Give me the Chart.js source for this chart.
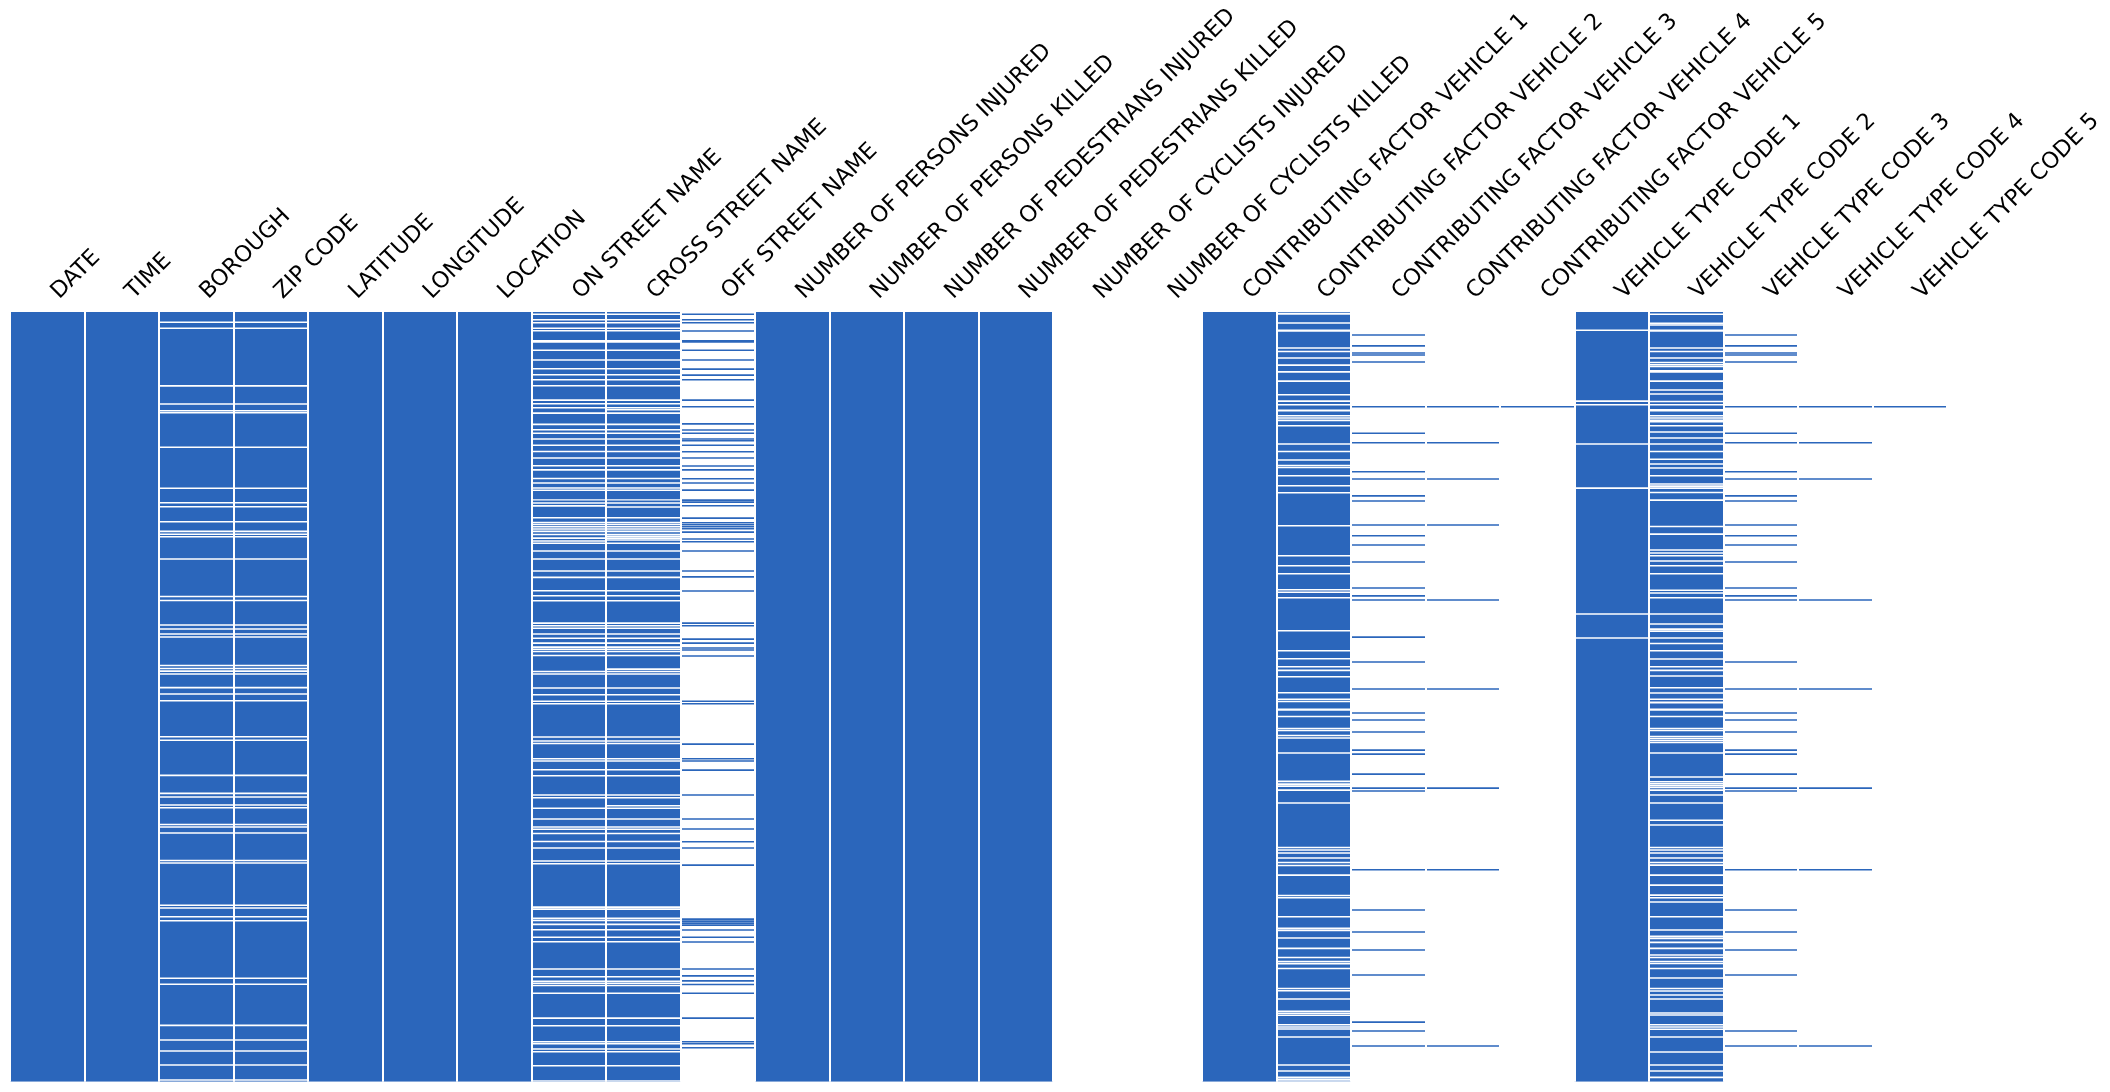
<!DOCTYPE html>
<html>
<head>
<meta charset="utf-8">
<script src="https://cdn.jsdelivr.net/npm/chart.js@4.4.1/dist/chart.umd.min.js"></script>
<style>
  html, body { margin: 0; padding: 0; background: #ffffff; }
  #wrap { width: 2110px; height: 1092px; position: relative; }
</style>
</head>
<body>
<div id="wrap"><canvas id="c"></canvas></div>
<script>
// ---- DATA ----
const columns = [
  "DATE", "TIME", "BOROUGH", "ZIP CODE", "LATITUDE", "LONGITUDE", "LOCATION",
  "ON STREET NAME", "CROSS STREET NAME", "OFF STREET NAME",
  "NUMBER OF PERSONS INJURED", "NUMBER OF PERSONS KILLED",
  "NUMBER OF PEDESTRIANS INJURED", "NUMBER OF PEDESTRIANS KILLED",
  "NUMBER OF CYCLISTS INJURED", "NUMBER OF CYCLISTS KILLED",
  "CONTRIBUTING FACTOR VEHICLE 1", "CONTRIBUTING FACTOR VEHICLE 2",
  "CONTRIBUTING FACTOR VEHICLE 3", "CONTRIBUTING FACTOR VEHICLE 4",
  "CONTRIBUTING FACTOR VEHICLE 5",
  "VEHICLE TYPE CODE 1", "VEHICLE TYPE CODE 2", "VEHICLE TYPE CODE 3",
  "VEHICLE TYPE CODE 4", "VEHICLE TYPE CODE 5"
];

const nRows = 500;

const emptyColumns = ["NUMBER OF CYCLISTS INJURED", "NUMBER OF CYCLISTS KILLED"];

// rows (0 = top) where a mostly-complete column is missing; [a, b] = run of rows
const boroughMissing = [6.2, 10.1, 47.5, 59.3, 63.6, 65.0, 87.3, 114, 123.4, 126, 135.8, 142, 143.9, 145.5,
  159.9, 184.3, 186.9, 202.8, 205.4, 208.7, 210.6, 229.2, 231.1, 232.8, 234.7, 243.5, 247.7, 252,
  275.4, 277.7, 300.5, 312.2, 314.5, 319.8, 321.5, 332.4, 334, 337.9, 355.8, 357.4, 384.9, 386.6,
  392.3, 394.9, 432.3, 436.2, 462.9, 472.4, 479.5, 488.6, 498.4];
const zipMissing = boroughMissing.slice();

const onStreetMissing = [0.9, 4.5, 6.5, 10, 11.7, [18.2, 19.9], 24.3, 30.7, 36.4, 40.3, 43.5, 47.4, [56.7, 57.8],
  59.1, 61.7, 65.2, [72.4, 73.5], 76, 78.2, 82, 86, 90.1, 94.4, 99.4, [102, 103.2], 107.6, 110.6, 113.8, 115.3,
  [121.6, 122.4], 123.6, [125.3, 126.5], 133.2, 136.2, 137.6, 139, 140.4, 142, 144, 146.4, 148.3, 149.7,
  154.8, 160, 167.8, 171.9, 180.6, 183.8, 187.1, 201.6, 203.3, 205, 208.7, 211.5, 214.6, 217.2, 218.6,
  220, 222.6, 233, 234.7, 243.8, 248.1, 252.3, 254, 275.6, 278.2, 279.8, 289.7, 291.2, 296.9, 300.8,
  313.3, 315, 321.8, 328.9, 334, 335.5, 338.2, 343.4, 347.7, 356.2, 357.9, 386.1, 387.4, 393.4, 394.8,
  397.3, 400.8, 405.6, 408.6, 426.3, 431.3, 434.2, 435.6, 437, 442, 458.2, 463.2, 473.5, 474.8, 478.3,
  480, 489.1, 499];

const crossStreetMissing = [0.9, 4.5, 6.5, 10, 11.7, [18.2, 19.9], 24.3, 30.7, 36.4, 40.3, 43.5, 47.4, [56.7, 57.8],
  59.1, 61.7, 63.0, 65.2, [72.4, 73.5], 76, 78.2, 82, 86, 90.1, 94.4, 99.4, [102, 103.2], 107.6, 110.6, 113.8, 115.3,
  [121.6, 122.4], 123.6, [126.2, 127.1], 133.2, 136.2, 137.6, 139, 140.4, 142, 144, 145.2, 146.4, 147.6, 149.7,
  154.8, 160, 167.8, 171.9, 180.6, 183.8, 187.1, 201.6, 203.3, 205, 208.7, 211.5, 214.6, 217.2, 218.6,
  220, 222.6, 231.5, 233, 234.7, 243.8, 248.1, 252.3, 254, 275.6, 278.2, 279.8, 289.7, 291.2, 296.9, 300.8,
  313.3, 315, 320.2, 321.8, 328.9, 334, 335.5, 338.2, 343.4, 347.7, 356.2, 357.9, 386.1, 387.4, 393.4, 394.8,
  397.3, 400.8, 405.6, 408.6, 426.3, 431.3, 434.2, 435.6, 437, 442, 458.2, 463.2, 473.5, 474.8, 478.3,
  480, 489.1, 499];

const cf2Missing = [[0.5, 1.8], 6.7, [11.3, 12.8], 22.9, 25.1, 29.4, 34, [38.3, 39.4], 44.4, 53.3, 57.4, 59.7,
  [63.4, 64.7], 66.9, 68.4, 69.9, 73.4, 85.3, 90.1, 95.7, 99.2, 100.5, 105.9, 112.4, 116.9, 138.4, 157.8,
  164.3, 169.5, 179.9, 181.6, 185.1, 206.6, 219.5, 224.7, 229.9, 232.3, 236.4, 246.8, 251, 252.5,
  [257.5, 259], 262.2, 270, 271.3, 274.6, 276.2, 286, 304.4, 306.2, 307.5, 310.1, 318.5, 347.3, 349, 351,
  354.2, 357.1, 359, 365.3, 378.5, 380, 392.3, 399.9, 401.2, 406.2, 412.9, 418.8, 421.4, 422.8, 425.9,
  438.9, 440.4, 445.8, 453.8, 455.1, 456.4, 462.5, 464.0, 465.3, 470.5, 488.7, 492.6, 496.7, 497.9, 499.1];

const vtc1Missing = [11.3, 57.4, 59.7, 85.3, 113.9, 195.7, 211.3];

const vtc2Missing = [0.9, 6.9, 8, [11.3, 12.8], 22.9, 25.1, 29.4, 32.3, 33.8, 34.9, [37.7, 39.4], 44.4, 50.2,
  52.8, 57.6, 59.7, [63, 64.7], 66.9, 68.4, [69.9, 71.7], 73.4, 77.5, 81.4, 85.3, 90.1, 95.1, 98.3, 100.9,
  105.9, 111.3, 112.6, 113.9, 116.7, 121.7, 138.8, 143.8, 154.1, 156.1, 157.8, 161.3, 164.3, 169.5, 180.3,
  182.1, 185.1, 195.7, 202.2, 205.5, 206.8, 211.3, 214.8, 219.5, 224.9, 229.9, 232.3, 236, 243.6, 247,
  251, [253.1, 254.4], [257.5, 259], 262.2, 270, 271.3, 275.2, 276.5, 277.8, 279.1, 286, 301.6, 304.6,
  305.9, 307.1, 308.3, 310.1, 313.3, 318.5, 329.6, 332.8, 347.3, 349, 351, 354.2, 357.1, 358.8, 365.3,
  371.8, 378.3, 380, 382.8, 392.3, 401, 405.1, 406.4, 409, 412.9, 417.2, 418.8, 421.4, 422.7, 425.9,
  432.2, 438.9, 440.6, 443.2, 445.8, 454.9, 456.2, 462.5, 464.0, 465.4, 470.5, 480.2, 488.7, 492.6, 496.7];

// rows where a mostly-empty column has a value
const offStreetPresent = [0.9, 4.5, 6.5, 11.9, [18.2, 19.9], 24.3, 30.7, 36.6, 40.5, 43.5, [56.7, 57.8],
  [61, 62.1], [72.1, 73.2], 76.2, 78.2, 82, 83.1, 86, 90.3, 94.4, 99.6, [102, 103.1], 107.8, 110.6, 115.2,
  121.7, 123, 125.4, 133.4, 136.4, 137.7, 139, 140.3, 142.5, 147, [148.7, 149.8], 154.8, 167.8,
  [171.5, 172.6], 180.8, 201.6, 203.3, 212, 214.6, 217.8, 219.1, 223, 252.3, 254, 280.2, 289.7, 291.2,
  297.1, 313.3, 328.9, 335.4, 343.6, 347.7, 358.8, 393.9, 395.2, 396.5, 397.8, 401, 405.6, 408.8, 426.3,
  [430.7, 431.8], [434, 435], 436.3, 442, 458.2, 473.5, 474.8, [477.4, 478.5]];

const cf3Present = [14.5, [21.4, 22.5], 26.2, 27.5, 32, 61.1, 78.2, 84.4, 103.3, 108, [118.9, 120], 122.3,
  137.9, 144.8, 150.9, 161.9, 178.8, [183.8, 184.9], 186.6, 210.7, 226.9, 244.4, 260, 264.6, 272.4,
  284.1, 286.7, 299.7, 308.8, 310.7, 361.8, 388, 402.3, 414, 430.2, 460.8, 466.6, 476.3];
const cf4Present = [61.1, 84.4, 108, 137.9, 186.6, 244.4, 308.8, 361.8, 476.3];
const cf5Present = [61.1];

const vtc3Present = [14.5, [21.4, 22.5], 26.2, 27.5, 32, 61.1, 78.2, 84.4, 103.3, 108, [118.9, 120], 122.3,
  137.9, 144.8, 150.9, 161.9, 178.8, [183.8, 184.9], 186.6, 226.9, 244.4, 260, 264.6, 272.4,
  284.1, 286.7, 299.7, 308.8, 310.7, 361.8, 388, 402.3, 414, 430.2, 466.6, 476.3];
const vtc4Present = [61.1, 84.4, 108, 186.6, 244.4, 308.8, 361.8, 476.3];
const vtc5Present = [61.1];

const missingRows = {
  "BOROUGH": boroughMissing,
  "ZIP CODE": zipMissing,
  "ON STREET NAME": onStreetMissing,
  "CROSS STREET NAME": crossStreetMissing,
  "CONTRIBUTING FACTOR VEHICLE 2": cf2Missing,
  "VEHICLE TYPE CODE 1": vtc1Missing,
  "VEHICLE TYPE CODE 2": vtc2Missing
};
const presentRows = {
  "OFF STREET NAME": offStreetPresent,
  "CONTRIBUTING FACTOR VEHICLE 3": cf3Present,
  "CONTRIBUTING FACTOR VEHICLE 4": cf4Present,
  "CONTRIBUTING FACTOR VEHICLE 5": cf5Present,
  "VEHICLE TYPE CODE 3": vtc3Present,
  "VEHICLE TYPE CODE 4": vtc4Present,
  "VEHICLE TYPE CODE 5": vtc5Present
};

// ---- STYLE ----
const FILL = "rgb(43, 102, 187)";
const GAP = "#ffffff";
const LINE_ROWS = 1.0;

function toSpan(s) { return Array.isArray(s) ? [s[0], s[1]] : [s, s + LINE_ROWS]; }

const datasets = [];
datasets.push({
  label: "base",
  data: columns.filter(c => !emptyColumns.includes(c) && !(c in presentRows)).map(c => ({ x: c, y: [0, nRows] })),
  backgroundColor: FILL,
  order: 2
});
for (const c of Object.keys(missingRows)) {
  datasets.push({
    label: c + " missing",
    data: missingRows[c].map(s => ({ x: c, y: toSpan(s) })),
    backgroundColor: GAP,
    order: 1
  });
}
for (const c of Object.keys(presentRows)) {
  datasets.push({
    label: c + " present",
    data: presentRows[c].map(s => ({ x: c, y: toSpan(s) })),
    backgroundColor: FILL,
    order: 1
  });
}
datasets.forEach(d => {
  d.barPercentage = 1;
  d.categoryPercentage = 1;
  d.inflateAmount = 0;
  d.borderWidth = 0;
});

new Chart(document.getElementById("c"), {
  type: "bar",
  data: { labels: columns, datasets },
  options: {
    responsive: true,
    maintainAspectRatio: false,
    animation: false,
    devicePixelRatio: 1,
    layout: { padding: { left: 10, right: 163, top: 0, bottom: 10.3 } },
    plugins: { legend: { display: false }, tooltip: { enabled: false } },
    scales: {
      x: {
        type: "category",
        position: "top",
        offset: true,
        stacked: true,
        grid: { offset: true, color: "#ffffff", lineWidth: 2, z: 1, drawTicks: false },
        border: { display: false },
        ticks: {
          autoSkip: false,
          minRotation: 45,
          maxRotation: 45,
          padding: 7,
          labelOffset: 27,
          color: "#000000",
          font: { family: "DejaVu Sans", size: 22.5 }
        },
        afterFit(scale) {
          scale.height = 312;
          scale.paddingLeft = 0;
          scale.paddingRight = 0;
        }
      },
      y: {
        display: false,
        min: 0,
        max: nRows,
        reverse: true,
        stacked: false
      }
    }
  }
});
</script>
</body>
</html>
